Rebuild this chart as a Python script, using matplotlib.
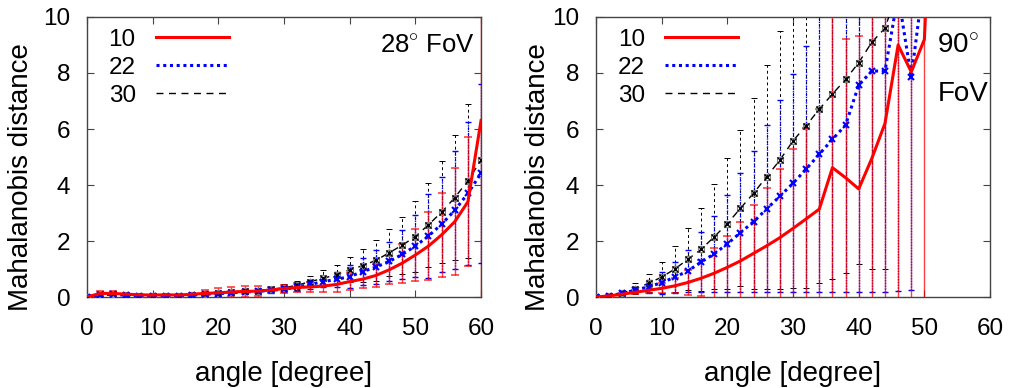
import matplotlib
matplotlib.use('Agg')
import matplotlib.pyplot as plt
import numpy as np

plt.rcParams['font.family'] = ['Liberation Sans', 'DejaVu Sans']
plt.rcParams['mathtext.fontset'] = 'custom'
plt.rcParams['mathtext.rm'] = 'Liberation Sans'

# angles (degree), same grid for every series
angle = np.arange(0, 62, 2)

# 28 deg FoV panel
l10 = [0, 0.13, 0.13, 0.10, 0.08, 0.07, 0.08, 0.07, 0.10, 0.13, 0.15, 0.18, 0.20, 0.21, 0.25, 0.30,
       0.34, 0.36, 0.39, 0.45, 0.55, 0.64, 0.77, 0.97, 1.21, 1.50, 1.82, 2.22, 2.69, 3.40, 6.30]
l10_err = [0.02, 0.08, 0.07, 0.04, 0.04, 0.04, 0.04, 0.05, 0.06, 0.13, 0.18, 0.18, 0.19, 0.18, 0.12, 0.14,
           0.16, 0.18, 0.22, 0.26, 0.30, 0.33, 0.40, 0.50, 0.70, 0.92, 1.20, 1.50, 1.90, 2.30, 6.80]
l22 = [0, 0.08, 0.10, 0.06, 0.05, 0.05, 0.05, 0.05, 0.07, 0.10, 0.12, 0.15, 0.18, 0.20, 0.24, 0.28,
       0.35, 0.45, 0.55, 0.63, 0.73, 0.91, 1.07, 1.27, 1.52, 1.82, 2.18, 2.60, 3.10, 3.70, 4.42]
l22_err = [0.01, 0.03, 0.03, 0.02, 0.02, 0.02, 0.02, 0.03, 0.03, 0.04, 0.05, 0.06, 0.07, 0.08, 0.09, 0.10,
           0.12, 0.15, 0.18, 0.27, 0.40, 0.47, 0.60, 0.70, 0.87, 1.10, 1.50, 1.70, 2.10, 2.55, 3.20]
l30 = [0, 0.10, 0.12, 0.06, 0.05, 0.05, 0.05, 0.05, 0.08, 0.11, 0.14, 0.17, 0.20, 0.23, 0.28, 0.33,
       0.42, 0.55, 0.67, 0.80, 0.97, 1.12, 1.31, 1.58, 1.85, 2.16, 2.58, 3.03, 3.55, 4.15, 4.89]
l30_err = [0.01, 0.03, 0.03, 0.02, 0.02, 0.02, 0.02, 0.03, 0.03, 0.04, 0.05, 0.06, 0.07, 0.08, 0.10, 0.12,
           0.16, 0.20, 0.29, 0.35, 0.45, 0.58, 0.73, 0.84, 1.02, 1.27, 1.50, 1.83, 2.24, 2.75, 5.50]

# 90 deg FoV panel (series stop where they leave the plot)
r10 = [0, 0.04, 0.10, 0.17, 0.24, 0.31, 0.40, 0.52, 0.67, 0.85, 1.06, 1.29, 1.56, 1.83, 2.12, 2.45,
       2.79, 3.14, 4.62, 4.26, 3.86, 4.95, 6.20, 9.00, 8.04, 9.20, 20.0]
r10_err = [0.01, 0.02, 0.05, 0.08, 0.11, 0.18, 0.27, 0.44, 0.65, 0.89, 1.13, 1.40, 1.73, 2.07, 2.45, 2.84,
           3.23, 3.57, 6.00, 4.95, 5.47, 6.50, 7.00, 12.0, 12.0, 12.0, 0]
r22 = [0, 0.03, 0.14, 0.24, 0.37, 0.51, 0.71, 0.93, 1.25, 1.54, 1.90, 2.30, 2.69, 3.15, 3.60, 4.06,
       4.57, 5.10, 5.63, 6.14, 7.57, 8.07, 8.07, 10.8, 7.85, 11.5]
r22_err = [0.01, 0.03, 0.06, 0.11, 0.23, 0.39, 0.55, 0.76, 1.08, 1.37, 1.73, 2.13, 2.52, 2.98, 3.43, 3.89,
           4.40, 4.93, 5.46, 5.97, 7.40, 7.90, 7.90, 10.6, 7.60, 0]
r30 = [0, 0.04, 0.15, 0.29, 0.49, 0.71, 1.00, 1.35, 1.70, 2.15, 2.62, 3.17, 3.71, 4.30, 4.89, 5.58,
       6.12, 6.71, 7.25, 7.77, 8.37, 9.10, 9.60, 11.0]
r30_err = [0.01, 0.03, 0.10, 0.20, 0.32, 0.55, 0.82, 1.10, 1.49, 1.87, 2.33, 2.79, 3.41, 4.00, 4.60, 5.25,
           5.80, 6.20, 6.60, 6.90, 7.20, 8.10, 8.60, 0]

FS = 17.5   # ticks / legend
LFS = 20    # axis labels


def panel(ax, s10, e10, s22, e22, s30, e30, ylab_x):
    a10 = angle[:len(s10)]
    a22 = angle[:len(s22)]
    a30 = angle[:len(s30)]

    eb = ax.errorbar(a30, s30, yerr=e30, fmt='none', ecolor='black', elinewidth=0.7,
                     capsize=2, capthick=0.7, zorder=2)
    eb[2][0].set_linestyle((0, (3, 3)))
    eb = ax.errorbar(a22, s22, yerr=e22, fmt='none', ecolor='blue', elinewidth=1,
                     capsize=2.5, capthick=1, zorder=3)
    eb[2][0].set_linestyle((0, (1, 1)))
    ax.errorbar(a10, s10, yerr=e10, fmt='none', ecolor='red', elinewidth=1, alpha=0.75,
                capsize=3, capthick=1.2, zorder=4)

    ax.plot(a30, s30, color='black', lw=1, ls=(0, (5, 4)), label='30', zorder=5)
    ax.plot(a30, s30, ls='none', marker='s', ms=5, mfc='none', mec='gray', mew=0.8, zorder=5)
    ax.plot(a30, s30, ls='none', marker='x', ms=4, color='black', mew=1, zorder=5)
    ax.plot(a22, s22, color='blue', lw=2.2, ls=(0, (1, 1.2)), label='22', zorder=6)
    ax.plot(a22, s22, ls='none', marker='x', ms=5, color='blue', mew=1.5, zorder=6)
    ax.plot(a10, s10, color='red', lw=2.2, label='10', zorder=7)

    ax.set_xlim(0, 60)
    ax.set_ylim(0, 10)
    ax.set_xticks(range(0, 61, 10))
    ax.set_yticks(range(0, 11, 2))
    ax.tick_params(direction='in', length=5, width=0.8, top=True, right=True,
                   labelsize=FS, color='#444444')
    ax.tick_params(axis='x', pad=15)
    ax.tick_params(axis='y', pad=12)
    for sp in ax.spines.values():
        sp.set_color('#444444')
        sp.set_linewidth(1)
    ax.set_xlabel('angle [degree]', fontsize=LFS, labelpad=15)
    ax.set_ylabel('Mahalanobis distance', fontsize=LFS)
    ax.yaxis.set_label_coords(ylab_x, 0.43)

    h, l = ax.get_legend_handles_labels()
    order = [l.index('10'), l.index('22'), l.index('30')]
    ax.legend([h[i] for i in order], [l[i] for i in order], loc='upper left',
              bbox_to_anchor=(0.018, 1.01), frameon=False, markerfirst=False,
              fontsize=FS, handlelength=3.0, handletextpad=0.85, labelspacing=0.25,
              borderaxespad=0.2)


fig = plt.figure(figsize=(10.11, 3.88), dpi=100)
ax1 = fig.add_axes([0.086, 0.2345, 0.3898, 0.7217])
ax2 = fig.add_axes([0.5895, 0.2345, 0.3898, 0.7217])

panel(ax1, l10, l10_err, l22, l22_err, l30, l30_err, -0.135)
panel(ax2, r10, r10_err, r22, r22_err, r30, r30_err, -0.115)

ax1.text(0.985, 0.871, r'28$^{\circ}$ FoV', transform=ax1.transAxes, ha='right', va='baseline',
         fontsize=18.5)
ax2.text(0.866, 0.871, r'90$^{\circ}$', transform=ax2.transAxes, ha='left', va='baseline',
         fontsize=LFS)
ax2.text(0.866, 0.70, 'FoV', transform=ax2.transAxes, ha='left', va='baseline', fontsize=LFS)

fig.savefig('out.png', dpi=100)
